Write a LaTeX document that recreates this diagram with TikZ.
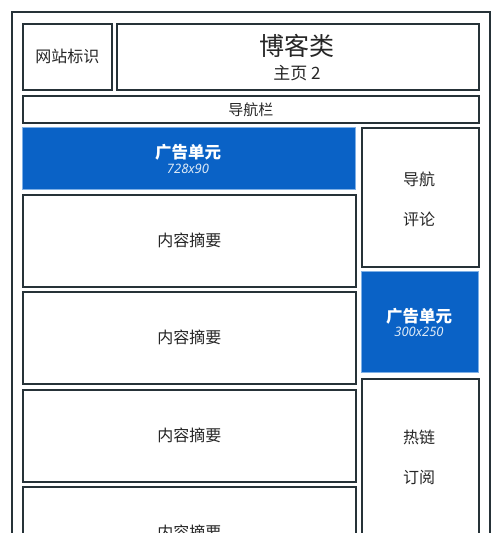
\documentclass[tikz,border=0pt]{standalone}
\usepackage{fontspec}
\setmainfont{Noto Sans CJK SC}
\newfontfamily\latfont{Noto Sans}
\definecolor{frame}{HTML}{263238}
\definecolor{adblue}{HTML}{0A62C6}
\definecolor{adedge}{HTML}{7FB0E6}
\begin{document}
\begin{tikzpicture}[x=1pt,y=-1pt,
  box/.style={draw=frame, line width=1.7pt, fill=white, inner sep=0pt, anchor=north west},
  adbox/.style={draw=adedge, line width=0.8pt, fill=adblue, inner sep=0pt, anchor=north west},
  txt/.style={inner sep=0pt, text=black!85, font=\fontsize{16}{18}\selectfont},
  adtxt/.style={inner sep=0pt, text=white, font=\fontsize{16.5}{18}\selectfont\bfseries},
  adsub/.style={inner sep=0pt, text=white!85!adblue, font=\latfont\itshape\fontsize{13}{15}\selectfont}]
\useasboundingbox (0,0) rectangle (500,533);
\clip (0,0) rectangle (500,533);
\fill[white] (0,0) rectangle (500,533);
% outer frame
\node[box, minimum width=478pt, minimum height=545pt] (page) at (11,11) {};
% header
\node[box, minimum width=89pt, minimum height=66pt] (logo) at (22,23) {};
\node[txt] (logot) at (logo.center) {网站标识};
\node[box, minimum width=362pt, minimum height=66pt] (title) at (116,23) {};
\node[inner sep=0pt, text=black!85, font=\fontsize{25}{28}\selectfont] (titlet) at (297,46) {博客类};
\node[inner sep=0pt, text=black!85, font=\fontsize{17}{19}\selectfont] (subt) at (297,73) {主页 2};
% nav bar
\node[box, minimum width=456pt, minimum height=27pt] (nav) at (22,95) {};
\node[txt, font=\fontsize{15}{17}\selectfont] (navt) at (nav.center) {导航栏};
% top banner ad
\node[adbox, minimum width=333pt, minimum height=62pt] (ad1) at (22,127) {};
\node[adtxt] (ad1t) at (188,152) {广告单元};
\node[adsub] (ad1s) at (188,169) {728x90};
% content boxes
\node[box, minimum width=333pt, minimum height=92pt] (c1) at (22,194) {};
\node[txt] (c1t) at (c1.center) {内容摘要};
\node[box, minimum width=333pt, minimum height=92pt] (c2) at (22,291) {};
\node[txt] (c2t) at (c2.center) {内容摘要};
\node[box, minimum width=333pt, minimum height=92pt] (c3) at (22,389) {};
\node[txt] (c3t) at (c3.center) {内容摘要};
\node[box, minimum width=333pt, minimum height=92pt] (c4) at (22,486) {};
\node[txt] (c4t) at (c4.center) {内容摘要};
% right column
\node[box, minimum width=117pt, minimum height=139pt] (side1) at (361,127) {};
\node[txt] (s1a) at (419,179) {导航};
\node[txt] (s1b) at (419,219) {评论};
\node[adbox, minimum width=117pt, minimum height=101pt] (ad2) at (361,271) {};
\node[adtxt] (ad2t) at (419,316) {广告单元};
\node[adsub] (ad2s) at (419,332) {300x250};
\node[box, minimum width=117pt, minimum height=170pt] (side2) at (361,378) {};
\node[txt] (s2a) at (419,437) {热链};
\node[txt] (s2b) at (419,478) {订阅};
\end{tikzpicture}
\end{document}
